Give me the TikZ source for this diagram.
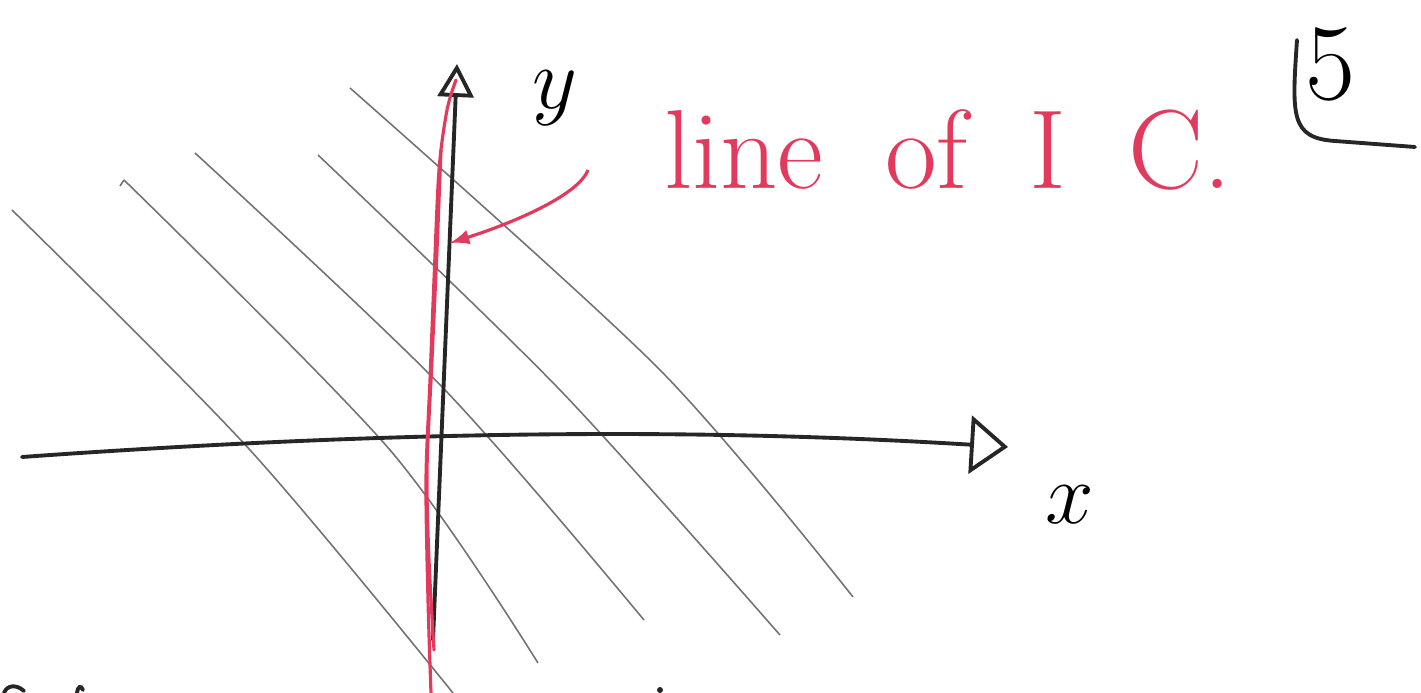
\documentclass[tikz,border=0pt]{standalone}
\usetikzlibrary{arrows.meta}
\definecolor{icred}{RGB}{226,58,92}
\begin{document}
\begin{tikzpicture}[x=0.1mm, y=-0.1mm, >=latex,
    axis/.style={line width=1.1pt, black!85, line cap=round},
    charline/.style={line width=0.45pt, black!55},
    icline/.style={line width=0.9pt, icred, line cap=round},
    hand/.style={inner sep=0pt}]
            \useasboundingbox (0,0) rectangle (1421,693);

            \draw[charline] plot[smooth] coordinates {(12,210) (250,450) (453,693)};
            \draw[charline] (120,186) -- (124,180) plot[smooth] coordinates {(124,180) (390,450) (538,663)};
            \draw[charline] plot[smooth] coordinates {(195,153) (445,390) (644,620)};
            \draw[charline] plot[smooth] coordinates {(318,155) (560,390) (780,635)};
            \draw[charline] plot[smooth] coordinates {(350,88) (660,370) (853,597)};

            \draw[axis, -{Triangle[open, length=3.8mm, width=5.8mm]}]
            (22,457) .. controls (400,430) and (700,428) .. (1008,447);
            \draw[axis, -{Triangle[open, length=3.3mm, width=3.6mm]}] (433,640) -- (457,64);

            \draw[icline] plot[smooth] coordinates {(431,693) (428,600) (426,480) (430,380) (434,280) (439,170) (447,110) (456,80)};
            \draw[icline] plot[smooth] coordinates {(434,650) (429,560) (427,470) (432,360) (437,250) (441,150)};

            \node[hand, text=icred, font=\fontsize{32}{34}\selectfont] (ic) at (948,150)
            {line\hspace{0.55em}of\hspace{0.55em}I\hspace{0.55em}C.};
            \node[hand, font=\fontsize{28}{30}\selectfont] (ylab) at (555,98) {$y$};
            \node[hand, font=\fontsize{28}{30}\selectfont] (xlab) at (1070,505) {$x$};
            \node[hand, font=\fontsize{31}{34}\selectfont] (five) at (1330,64) {5};

            \coordinate (icfrom) at (588,170);
            \coordinate (icto) at (450,243);
            \draw[icred, line width=0.9pt, ->] (icfrom) .. controls (578,196) and (510,224) .. (icto);

            \draw[axis] (1297,40) .. controls (1292,115) and (1290,138) .. (1335,141) -- (1415,147);

            \draw[axis] (4,693) .. controls (7,685) and (16,684) .. (24,691);
            \draw[axis] (77,693) .. controls (78,686) and (81,685) .. (83,690);
            \fill[black!85] (660,690) circle (3);
        \end{tikzpicture}
\end{document}
